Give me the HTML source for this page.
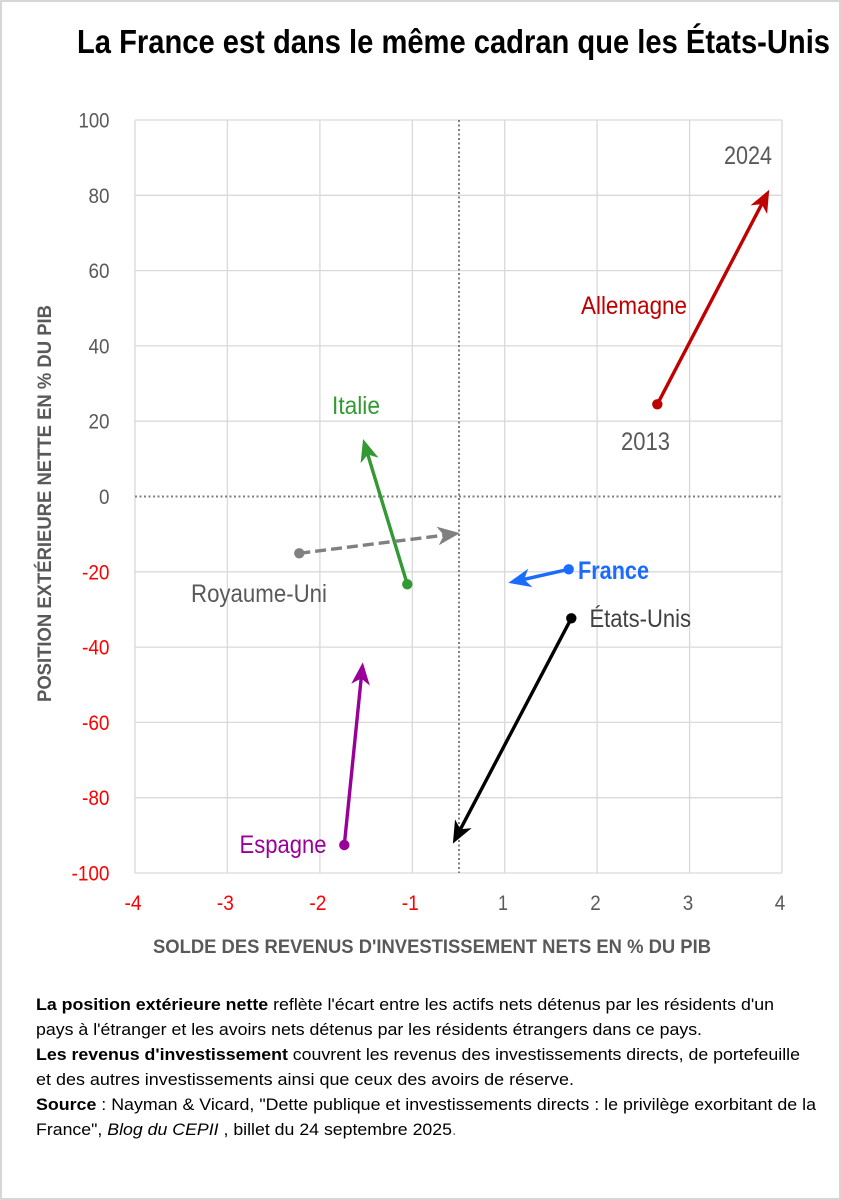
<!DOCTYPE html>
<html>
<head>
<meta charset="utf-8">
<style>
  html, body { margin:0; padding:0; background:#fff; }
  svg { display:block; }
  text { font-family: "Liberation Sans", Arial, sans-serif; }
</style>
</head>
<body>
<svg width="841" height="1200" viewBox="0 0 841 1200" xmlns="http://www.w3.org/2000/svg">
  <defs>
    <marker id="mRed" markerUnits="userSpaceOnUse" markerWidth="30" markerHeight="30" refX="14" refY="0" orient="auto" viewBox="-2 -10 24 20" style="overflow:visible">
      <path d="M0,-7.5 L18,0 L0,7.5 L5,0 Z" fill="#c00000"/>
    </marker>
    <marker id="mGreen" markerUnits="userSpaceOnUse" markerWidth="30" markerHeight="30" refX="14" refY="0" orient="auto" viewBox="-2 -10 24 20" style="overflow:visible">
      <path d="M0,-7.5 L18,0 L0,7.5 L5,0 Z" fill="#339933"/>
    </marker>
    <marker id="mGray" markerUnits="userSpaceOnUse" markerWidth="30" markerHeight="30" refX="14" refY="0" orient="auto" viewBox="-2 -10 24 20" style="overflow:visible">
      <path d="M0,-7.5 L18,0 L0,7.5 L5,0 Z" fill="#808080"/>
    </marker>
    <marker id="mBlue" markerUnits="userSpaceOnUse" markerWidth="30" markerHeight="30" refX="14" refY="0" orient="auto" viewBox="-2 -10 24 20" style="overflow:visible">
      <path d="M0,-7.5 L18,0 L0,7.5 L5,0 Z" fill="#1a6cff"/>
    </marker>
    <marker id="mBlack" markerUnits="userSpaceOnUse" markerWidth="30" markerHeight="30" refX="14" refY="0" orient="auto" viewBox="-2 -10 24 20" style="overflow:visible">
      <path d="M0,-7.5 L18,0 L0,7.5 L5,0 Z" fill="#000000"/>
    </marker>
    <marker id="mPurple" markerUnits="userSpaceOnUse" markerWidth="30" markerHeight="30" refX="14" refY="0" orient="auto" viewBox="-2 -10 24 20" style="overflow:visible">
      <path d="M0,-7.5 L18,0 L0,7.5 L5,0 Z" fill="#990099"/>
    </marker>
  </defs>

  <!-- outer border -->
  <rect x="1" y="1" width="839" height="1198" fill="#fff" stroke="#d6d6d6" stroke-width="2"/>

  <!-- title -->
  <text x="77" y="53" font-size="33" font-weight="bold" fill="#000" textLength="753" lengthAdjust="spacingAndGlyphs">La France est dans le même cadran que les États-Unis</text>

  <!-- gridlines -->
  <g stroke="#d9d9d9" stroke-width="1.3" fill="none">
    <line x1="135" y1="120" x2="782" y2="120"/>
    <line x1="135" y1="195.3" x2="782" y2="195.3"/>
    <line x1="135" y1="270.6" x2="782" y2="270.6"/>
    <line x1="135" y1="345.9" x2="782" y2="345.9"/>
    <line x1="135" y1="421.2" x2="782" y2="421.2"/>
    <line x1="135" y1="571.8" x2="782" y2="571.8"/>
    <line x1="135" y1="647.1" x2="782" y2="647.1"/>
    <line x1="135" y1="722.4" x2="782" y2="722.4"/>
    <line x1="135" y1="797.7" x2="782" y2="797.7"/>
    <line x1="135" y1="873" x2="782" y2="873"/>
    <line x1="135" y1="120" x2="135" y2="873"/>
    <line x1="227.4" y1="120" x2="227.4" y2="873"/>
    <line x1="319.9" y1="120" x2="319.9" y2="873"/>
    <line x1="412.3" y1="120" x2="412.3" y2="873"/>
    <line x1="504.7" y1="120" x2="504.7" y2="873"/>
    <line x1="597.1" y1="120" x2="597.1" y2="873"/>
    <line x1="689.6" y1="120" x2="689.6" y2="873"/>
    <line x1="782" y1="120" x2="782" y2="873"/>
  </g>

  <!-- dotted zero lines -->
  <g stroke="#7f7f7f" stroke-width="2" stroke-dasharray="2 2.5" fill="none">
    <line x1="135" y1="496.5" x2="782" y2="496.5"/>
    <line x1="459" y1="120" x2="459" y2="873"/>
  </g>

  <!-- y tick labels -->
  <g font-size="21.5" text-anchor="end">
    <text x="109.5" y="127.5" fill="#595959" textLength="31" lengthAdjust="spacingAndGlyphs">100</text>
    <text x="109.5" y="202.8" fill="#595959" textLength="21" lengthAdjust="spacingAndGlyphs">80</text>
    <text x="109.5" y="278.1" fill="#595959" textLength="21" lengthAdjust="spacingAndGlyphs">60</text>
    <text x="109.5" y="353.4" fill="#595959" textLength="21" lengthAdjust="spacingAndGlyphs">40</text>
    <text x="109.5" y="428.7" fill="#595959" textLength="21" lengthAdjust="spacingAndGlyphs">20</text>
    <text x="109.5" y="504" fill="#595959" textLength="10.5" lengthAdjust="spacingAndGlyphs">0</text>
    <text x="109.5" y="579.3" fill="#ff0000" textLength="27.5" lengthAdjust="spacingAndGlyphs">-20</text>
    <text x="109.5" y="654.6" fill="#ff0000" textLength="27.5" lengthAdjust="spacingAndGlyphs">-40</text>
    <text x="109.5" y="729.9" fill="#ff0000" textLength="27.5" lengthAdjust="spacingAndGlyphs">-60</text>
    <text x="109.5" y="805.2" fill="#ff0000" textLength="27.5" lengthAdjust="spacingAndGlyphs">-80</text>
    <text x="109.5" y="880.5" fill="#ff0000" textLength="38" lengthAdjust="spacingAndGlyphs">-100</text>
  </g>

  <!-- x tick labels -->
  <g font-size="21.5" text-anchor="middle">
    <text x="133" y="910" fill="#ff0000" textLength="17" lengthAdjust="spacingAndGlyphs">-4</text>
    <text x="225.4" y="910" fill="#ff0000" textLength="17" lengthAdjust="spacingAndGlyphs">-3</text>
    <text x="317.9" y="910" fill="#ff0000" textLength="17" lengthAdjust="spacingAndGlyphs">-2</text>
    <text x="410.3" y="910" fill="#ff0000" textLength="17" lengthAdjust="spacingAndGlyphs">-1</text>
    <text x="503" y="910" fill="#595959" textLength="10" lengthAdjust="spacingAndGlyphs">1</text>
    <text x="595.5" y="910" fill="#595959" textLength="10.5" lengthAdjust="spacingAndGlyphs">2</text>
    <text x="688" y="910" fill="#595959" textLength="10.5" lengthAdjust="spacingAndGlyphs">3</text>
    <text x="780" y="910" fill="#595959" textLength="10.5" lengthAdjust="spacingAndGlyphs">4</text>
  </g>

  <!-- axis titles -->
  <text x="153" y="953" font-size="19" font-weight="bold" fill="#595959" textLength="558" lengthAdjust="spacingAndGlyphs">SOLDE DES REVENUS D'INVESTISSEMENT NETS EN % DU PIB</text>
  <text transform="translate(51,503.5) rotate(-90)" x="0" y="0" text-anchor="middle" font-size="19" font-weight="bold" fill="#595959" textLength="397" lengthAdjust="spacingAndGlyphs">POSITION EXTÉRIEURE NETTE EN % DU PIB</text>

  <!-- series arrows -->
  <g stroke-width="3.4" fill="none" stroke-linecap="butt">
    <line x1="657.3" y1="404.3" x2="766.9" y2="194.2" stroke="#c00000" marker-end="url(#mRed)"/>
    <line x1="407.3" y1="584.3" x2="364.5" y2="443.8" stroke="#339933" marker-end="url(#mGreen)"/>
    <line x1="299.3" y1="553.3" x2="455" y2="533.8" stroke="#808080" stroke-dasharray="11 5" marker-end="url(#mGray)"/>
    <line x1="568.7" y1="569.3" x2="513.2" y2="581.8" stroke="#1a6cff" marker-end="url(#mBlue)"/>
    <line x1="571.3" y1="618.3" x2="455.2" y2="839.2" stroke="#000000" marker-end="url(#mBlack)"/>
    <line x1="344.3" y1="845" x2="362.3" y2="667.3" stroke="#990099" marker-end="url(#mPurple)"/>
  </g>
  <g>
    <circle cx="657.3" cy="404.3" r="5.2" fill="#c00000"/>
    <circle cx="407.3" cy="584.3" r="5.2" fill="#339933"/>
    <circle cx="299.3" cy="553.3" r="5.2" fill="#808080"/>
    <circle cx="568.7" cy="569.3" r="5.2" fill="#1a6cff"/>
    <circle cx="571.3" cy="618.3" r="5.2" fill="#000000"/>
    <circle cx="344.3" cy="845" r="5.2" fill="#990099"/>
  </g>

  <!-- series labels -->
  <g font-size="25">
    <text x="724" y="164" fill="#595959" textLength="48" lengthAdjust="spacingAndGlyphs">2024</text>
    <text x="581" y="314" fill="#c00000" textLength="106" lengthAdjust="spacingAndGlyphs">Allemagne</text>
    <text x="621" y="450" fill="#595959" textLength="49" lengthAdjust="spacingAndGlyphs">2013</text>
    <text x="332" y="414" fill="#339933" textLength="48" lengthAdjust="spacingAndGlyphs">Italie</text>
    <text x="191" y="602" fill="#595959" textLength="136" lengthAdjust="spacingAndGlyphs">Royaume-Uni</text>
    <text x="578" y="579" fill="#1a6cff" font-weight="bold" textLength="71" lengthAdjust="spacingAndGlyphs">France</text>
    <text x="589.5" y="627" fill="#404040" textLength="101.5" lengthAdjust="spacingAndGlyphs">États-Unis</text>
    <text x="239.5" y="853" fill="#990099" textLength="87" lengthAdjust="spacingAndGlyphs">Espagne</text>
  </g>

  <!-- footnote -->
  <g font-size="16.5" fill="#000">
    <text x="36" y="1010" textLength="738" lengthAdjust="spacingAndGlyphs"><tspan font-weight="bold">La position extérieure nette</tspan> reflète l'écart entre les actifs nets détenus par les résidents d'un</text>
    <text x="36" y="1035" textLength="666" lengthAdjust="spacingAndGlyphs">pays à l'étranger et les avoirs nets détenus par les résidents étrangers dans ce pays.</text>
    <text x="36" y="1060" textLength="764" lengthAdjust="spacingAndGlyphs"><tspan font-weight="bold">Les revenus d'investissement</tspan> couvrent les revenus des investissements directs, de portefeuille</text>
    <text x="36" y="1085" textLength="538" lengthAdjust="spacingAndGlyphs">et  des autres investissements ainsi que ceux des avoirs de réserve.</text>
    <text x="36" y="1110" textLength="780" lengthAdjust="spacingAndGlyphs"><tspan font-weight="bold">Source</tspan> : Nayman &amp; Vicard, "Dette publique et investissements directs : le privilège exorbitant de la</text>
    <text x="36" y="1135" textLength="416" lengthAdjust="spacingAndGlyphs">France", <tspan font-style="italic">Blog du CEPII</tspan> , billet du 24 septembre 2025</text>
    <text x="452" y="1135" fill="#808080">.</text>
  </g>
</svg>
</body>
</html>
